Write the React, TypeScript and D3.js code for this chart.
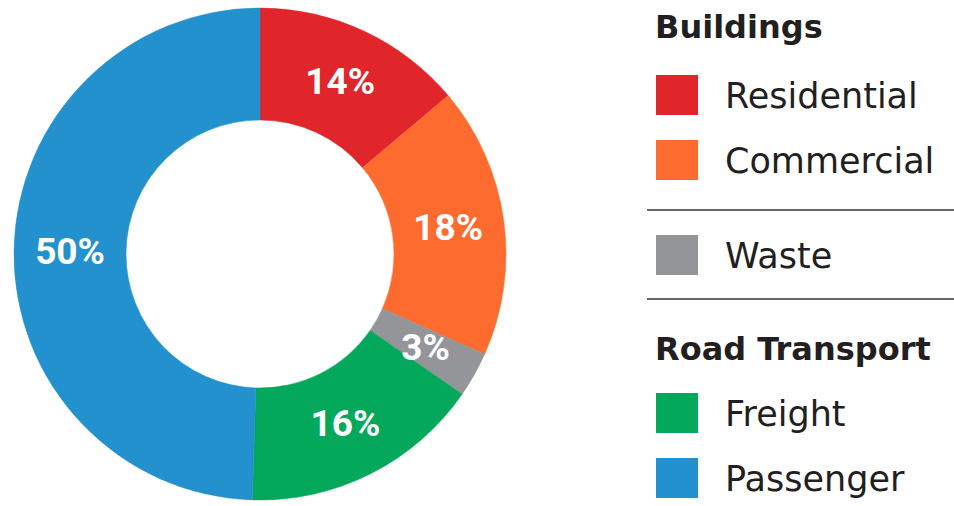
import React from "react";
import * as d3 from "d3";

const categories = ["Residential", "Commercial", "Waste", "Freight", "Passenger"];
const values = [14, 18, 3, 16, 50];
const labels = ["14%", "18%", "3%", "16%", "50%"];
const colors = ["#e1262b", "#fe6b2e", "#949599", "#04a85a", "#2491cf"];

const groupTitles = ["Buildings", "Road Transport"];

export default function App() {
  const W = 954;
  const H = 506;
  const cx = 260;
  const cy = 254;
  const outerR = 246;
  const innerR = 134;

  const pie = d3.pie<number>().sort(null).startAngle(0).endAngle(2 * Math.PI).value((d) => d);
  const arcs = pie(values);
  const arc = d3.arc<d3.PieArcDatum<number>>().innerRadius(innerR).outerRadius(outerR);

  const legendX = 656;
  const textX = 725;
  const boxW = 42;
  const boxH = 40;
  // legend rows: index into categories, box top y
  const rows = [
    { i: 0, y: 75 },
    { i: 1, y: 140 },
    { i: 2, y: 235 },
    { i: 3, y: 393 },
    { i: 4, y: 458 },
  ];
  const textColor = "#231f20";

  return (
    <svg width={W} height={H} style={{ position: "absolute", left: 0, top: 0, background: "#fff" }}>
      <g transform={`translate(${cx},${cy})`}>
        {arcs.map((a, k) => (
          <path key={k} d={arc(a) || ""} fill={colors[k]} stroke={colors[k]} strokeWidth={0.5} />
        ))}
        {arcs.map((a, k) => {
          const [x, y] = arc.centroid(a);
          return (
            <text
              key={"l" + k}
              x={x}
              y={y}
              textAnchor="middle"
              dominantBaseline="central"
              fill="#ffffff"
              fontFamily="Roboto, sans-serif"
              fontWeight={700}
              fontSize={37}
            >
              {labels[k]}
            </text>
          );
        })}
      </g>
      <text x={655} y={38} fill={textColor} fontFamily="DejaVu Sans, sans-serif" fontWeight={700} fontSize={32}>
        {groupTitles[0]}
      </text>
      <text x={655} y={360} fill={textColor} fontFamily="DejaVu Sans, sans-serif" fontWeight={700} fontSize={32}>
        {groupTitles[1]}
      </text>
      <line x1={647} x2={954} y1={210} y2={210} stroke="#333" strokeWidth={1.5} />
      <line x1={647} x2={954} y1={299} y2={299} stroke="#333" strokeWidth={1.5} />
      {rows.map((r) => (
        <g key={r.i}>
          <rect x={legendX} y={r.y} width={boxW} height={boxH} fill={colors[r.i]} />
          <text
            x={textX}
            y={r.y + boxH / 2 + 13}
            fill={textColor}
            fontFamily="DejaVu Sans, sans-serif"
            fontSize={35}
          >
            {categories[r.i]}
          </text>
        </g>
      ))}
    </svg>
  );
}
